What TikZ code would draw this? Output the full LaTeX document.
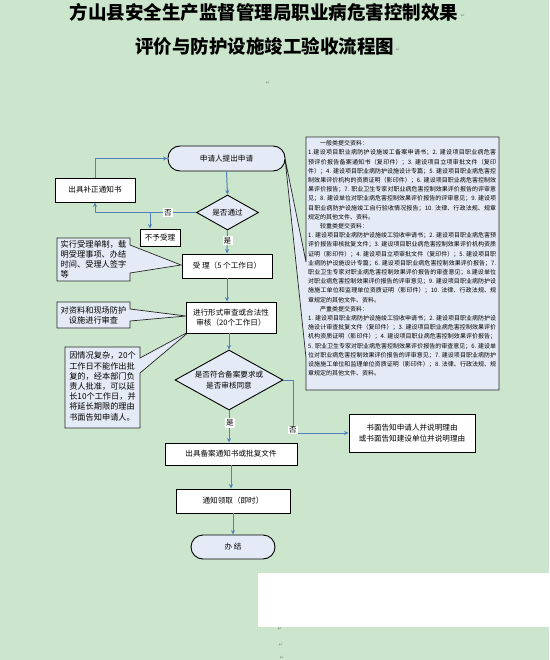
\documentclass[tikz,border=0pt]{standalone}
\usepackage{fontspec}
\setmainfont{Noto Sans CJK SC}
\newfontfamily\symfnt{DejaVu Sans}
\XeTeXlinebreaklocale "zh"
\XeTeXlinebreakskip = 0pt plus 1pt
\usetikzlibrary{shapes.geometric,arrows.meta}
\definecolor{bggreen}{RGB}{204,230,205}
\definecolor{lblue}{RGB}{229,235,246}
\definecolor{arrowblue}{RGB}{79,129,189}
\newcommand\fsz[2]{\fontsize{#1}{#2}\selectfont}
\begin{document}
\begin{tikzpicture}[x=1pt,y=-1pt,
  rbox/.style={draw=black, line width=0.9pt, fill=white, inner sep=1pt, font=\fsz{7.6}{10.5}, align=center},
  term/.style={rbox, fill=lblue, rounded corners=12pt},
  dia/.style={draw=black, line width=0.9pt, fill=lblue, diamond, aspect=1.8, inner sep=0pt, font=\fsz{7.6}{10.5}, align=center},
  arr/.style={draw=arrowblue, line width=1pt, -{Stealth[length=4.5pt,width=4pt]}},
  conn/.style={draw=arrowblue, line width=1pt},
  lbl/.style={fill=white, inner sep=1.2pt, font=\fsz{7.6}{9}},
  callout/.style={draw=black!85, line width=0.7pt, fill=lblue, line join=miter},
  ctext/.style={inner sep=0pt, font=\fsz{8.2}{10.2}},
  title/.style={inner sep=0pt, font=\fsz{18.5}{22}\bfseries},
  pmark/.style={inner sep=0pt, font=\symfnt\fsz{5.5}{6}, text=black!45}
]
\fill[bggreen] (0,0) rectangle (549,660);
\useasboundingbox (0,0) rectangle (549,660);

% title
\node[title] (t1) at (264,12.5) {方山县安全生产监督管理局职业病危害控制效果};
\node[title] (t2) at (264.5,46.5) {评价与防护设施竣工验收流程图};
\node[pmark] (pm1) at (463,16) {↵};
\node[pmark] (pm2) at (398,50) {↵};
\node[pmark] (pm3) at (268,83) {↵};

% callout tips
\coordinate (tipI) at (285,158.5);
\coordinate (tipA) at (181,265);
\coordinate (tipB) at (186,316);
\coordinate (tipC) at (190,331);

% info callout
\path[callout] (306,137) -- (499,137) -- (499,390) -- (306,390) -- (306,358) -- (tipI) -- (306,262) -- cycle;
\node[anchor=north west, text width=188pt, inner sep=0pt, align=justify, font=\fsz{6}{9.2}] (info) at (308,140.5) {%
\hspace*{2em}一般类提交资料：\par
1.建设项目职业病防护设施竣工备案申请书；2. 建设项目职业病危害预评价报告备案通知书（复印件）；3. 建设项目立项审批文件（复印件）；4. 建设项目职业病防护设施设计专篇；5. 建设项目职业病危害控制效果评价机构的资质证明（影印件）；6. 建设项目职业病危害控制效果评价报告；7. 职业卫生专家对职业病危害控制效果评价报告的评审意见；8. 建设单位对职业病危害控制效果评价报告的评审意见；9. 建设项目职业病防护设施竣工自行验收情况报告；10. 法律、行政法规、规章规定的其他文件、资料。\par
\hspace*{2em}较重类提交资料：\par
1. 建设项目职业病防护设施竣工验收申请书；2. 建设项目职业病危害预评价报告审核批复文件；3. 建设项目职业病危害控制效果评价机构资质证明（影印件）；4. 建设项目立项审批文件（复印件）；5. 建设项目职业病防护设施设计专篇；6. 建设项目职业病危害控制效果评价报告；7. 职业卫生专家对职业病危害控制效果评价报告的审查意见；8.建设单位对职业病危害控制效果评价报告的评审意见；9. 建设项目职业病防护设施施工单位和监理单位资质证明（影印件）；10. 法律、行政法规、规章规定的其他文件、资料。\par
\hspace*{2em}严重类提交资料：\par
1. 建设项目职业病防护设施竣工验收申请书；2. 建设项目职业病防护设施设计审查批复文件（复印件）；3. 建设项目职业病危害控制效果评价机构资质证明（影印件）；4. 建设项目职业病危害控制效果评价报告；5. 职业卫生专家对职业病危害控制效果评价报告的审查意见；6. 建设单位对职业病危害控制效果评价报告的评审意见；7. 建设项目职业病防护设施施工单位和监理单位资质证明（影印件）；8. 法律、行政法规、规章规定的其他文件、资料。};

% left callouts
\path[callout] (57,238) -- (130,238) -- (130,245) -- (tipA) -- (130,273) -- (130,281) -- (57,281) -- cycle;
\node[ctext, align=left] (c1) at (93.5,259.5) {实行受理单制，载\\明受理事项、办结\\时间、受理人签字\\等};
\path[callout] (57,302) -- (130,302) -- (130,309) -- (tipB) -- (130,321) -- (130,328) -- (57,328) -- cycle;
\node[ctext, align=center] (c2) at (93.5,315) {对资料和现场防护\\设施进行审查};
\path[callout] (65,347) -- (140,347) -- (140,358) -- (tipC) -- (140,373) -- (140,428) -- (65,428) -- cycle;
\node[ctext, align=left] (c3) at (102.5,386.5) {因情况复杂，20个\\工作日不能作出批\\复的，经本部门负\\责人批准，可以延\\长10个工作日，并\\将延长期限的理由\\书面告知申请人。};

% flow nodes
\node[term, minimum width=117pt, minimum height=25pt] (start) at (226.5,158.5) {申请人提出申请};
\node[dia, minimum width=62pt, minimum height=35pt] (d1) at (227.5,212.5) {是否通过};
\node[rbox, minimum width=80pt, minimum height=24pt] (fix) at (95,190) {出具补正通知书};
\node[rbox, minimum width=40pt, minimum height=17pt] (reject) at (160,237.5) {不予受理};
\node[rbox, minimum width=90pt, minimum height=24pt] (accept) at (227,266) {受 理（5 个工作日）};
\node[rbox, minimum width=90pt, minimum height=31pt] (review) at (231,317.5) {进行形式审查或合法性\\审核（20个工作日）};
\node[dia, minimum width=108pt, minimum height=60pt] (d2) at (229,380) {是否符合备案要求或\\是否审核同意};
\node[rbox, minimum width=126pt, minimum height=38pt] (notify) at (412,433) {书面告知申请人并说明理由\\或书面告知建设单位并说明理由};
\node[rbox, minimum width=132pt, minimum height=22pt] (issue) at (231,454) {出具备案通知书或批复文件};
\node[rbox, minimum width=114pt, minimum height=24pt] (collect) at (233,501) {通知领取（即时）};
\node[term, minimum width=84pt, minimum height=24pt] (endn) at (233,547) {办 结};

% connectors
\draw[arr] (start.south) -- (d1.north);
\draw[arr] (d1.west) -| (fix.south);
\coordinate (brk) at (150,212.5);
\draw[arr] (brk) -- (brk |- reject.north);
\node[lbl] (no1) at (168,212.5) {否};
\draw[arr] (fix.north) |- (start.west);
\draw[arr] (d1.south) -- (accept.north);
\node[lbl] (yes1) at (227.5,240.5) {是};
\draw[arr] (accept.south) -- (accept.south |- review.north);
\draw[arr] (d2.north |- review.south) -- (d2.north);
\draw[arr] (d2.east) -- ++(10,0) |- (notify.west);
\node[lbl] (no2) at (293,430) {否};
\draw[arr] (d2.south) -- (d2.south |- issue.north);
\node[lbl] (yes2) at (230,423) {是};
\draw[arr] (issue.south) -- (issue.south |- collect.north);
\draw[arr] (collect.south) -- (endn.north);

% white patch
\fill[white] (258,573) rectangle (549,627);
\node[pmark] (pm4) at (280,629) {↵};
\node[pmark] (pm5) at (281,645) {↵};
\node[pmark] (pm6) at (282,658) {↵};
\end{tikzpicture}
\end{document}
